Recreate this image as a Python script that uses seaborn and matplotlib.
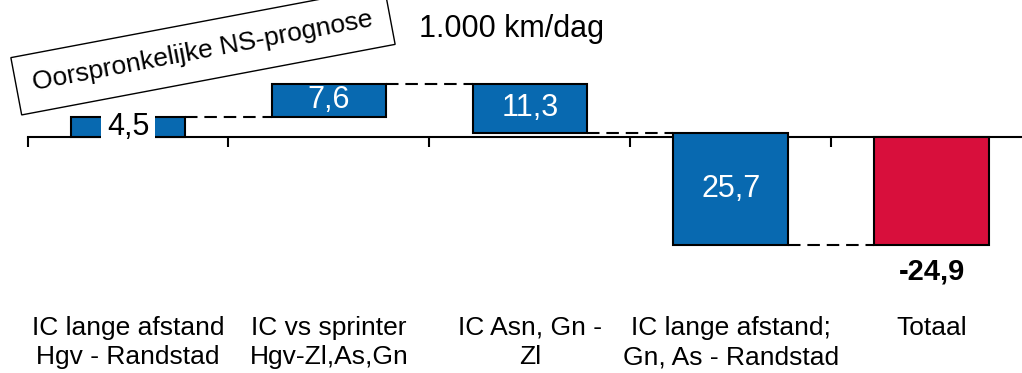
import matplotlib
matplotlib.use("Agg")
import matplotlib.pyplot as plt
import numpy as np
import pandas as pd
import seaborn as sns

# ---- data ----
categories = ["IC lange afstand\nHgv - Randstad",
              "IC vs sprinter\nHgv-Zl,As,Gn",
              "IC Asn, Gn -\nZl",
              "IC lange afstand;\nGn, As - Randstad",
              "Totaal"]
steps = [4.5, 7.6, -11.3, -25.7]
total = -24.9
value_labels = ["4,5", "7,6", "11,3", "25,7", "-24,9"]
unit_label = "1.000 km/dag"
note_label = "Oorspronkelijke NS-prognose"

BLUE = "#0869B0"
RED = "#D80F3C"

sns.set_style("white")
plt.rcParams["font.family"] = ["Liberation Sans", "DejaVu Sans"]
plt.rcParams["text.color"] = "black"
plt.rcParams["xtick.color"] = "black"
plt.rcParams["xtick.labelcolor"] = "black"

heights = list(steps) + [total]
ends = np.cumsum(steps)
bottoms = [0.0] + list(ends[:-1]) + [0.0]
df = pd.DataFrame({"cat": categories, "height": heights})

W = 0.57
fig = plt.figure(figsize=(10.22, 3.73), dpi=100)
ax = fig.add_axes([27.5 / 1022, 0, 1 - 27.5 / 1022, 1])

sns.barplot(data=df, x="cat", y="height", order=categories, color=BLUE,
            saturation=1, width=W, bottom=bottoms, edgecolor="black",
            linewidth=1.5, errorbar=None, ax=ax)
ax.patches[-1].set_facecolor(RED)

# connectors
for i in range(len(steps)):
    lvl = ends[i]
    ax.plot([i + W / 2, i + 1 - W / 2], [lvl, lvl], color="black", lw=1.5,
            ls=(0, (6, 3.3)), zorder=1)

for s in ["left", "right", "top"]:
    ax.spines[s].set_visible(False)
ax.spines["bottom"].set_position(("data", 0))
ax.spines["bottom"].set_linewidth(1.5)
ax.spines["bottom"].set_color("black")
ax.spines["bottom"].set_zorder(0.5)

ax.set_xticks(np.arange(len(categories) + 1) - 0.5,
              labels=[""] * (len(categories) + 1))
ax.set_xticks(np.arange(len(categories)), labels=categories, minor=True)
ax.tick_params(axis="x", which="major", bottom=True, direction="out",
               length=7, width=1.5, color="black")
ax.tick_params(axis="x", which="minor", bottom=True, length=0, pad=129,
               labelsize=19, labelbottom=True, labelcolor="black")
for lab in ax.get_xticklabels(minor=True):
    lab.set_linespacing(1.3)
ax.set_yticks([])
ax.set_xlabel("")
ax.set_ylabel("")
ax.set_xlim(-0.5, 4.45)
ax.set_ylim(-54.28, 31.33)

# value labels
for i in range(1, len(steps)):
    ax.text(i, bottoms[i] + heights[i] / 2, value_labels[i], color="white",
            ha="center", va="center", fontsize=22, zorder=5)
ax.text(0, heights[0] / 2, value_labels[0], color="black", ha="center",
        va="center", fontsize=22, zorder=5,
        bbox=dict(boxstyle="square,pad=0.2", fc="white", ec="none"))
ax.annotate(value_labels[-1], xy=(len(categories) - 1, total),
            xytext=(0, -9), textcoords="offset points", ha="center",
            va="top", fontsize=21, fontweight="bold", color="black")

fig.text(419 / 1022, 1 - 37 / 373, unit_label, fontsize=22, ha="left",
         va="baseline", color="black")
fig.text(203 / 1022, 1 - 51 / 373, note_label, fontsize=19, rotation=10.7,
         ha="center", va="center", rotation_mode="anchor", color="black",
         bbox=dict(boxstyle="square,pad=0.65", fc="white", ec="black", lw=1))

fig.savefig("out.png", dpi=100)
